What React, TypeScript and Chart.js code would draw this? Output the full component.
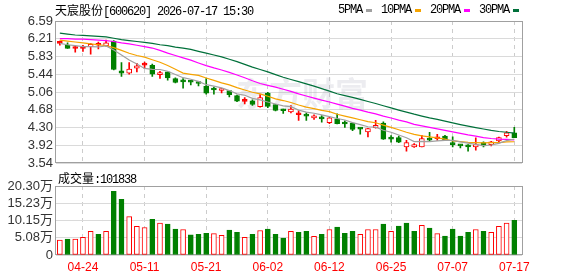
import React, { useEffect, useRef } from 'react';
import { Chart, registerables } from 'chart.js';

Chart.register(...registerables);

// ---------- data ----------
const stockName = '天宸股份';
const stockCode = '600620';
const timestamp = '2026-07-17 15:30';
const latestVolume = 101838;

const dates = [
  '04-21', '04-22', '04-23', '04-24', '04-27', '04-28', '04-29', '04-30', '05-06', '05-07',
  '05-08', '05-11', '05-12', '05-13', '05-14', '05-15', '05-18', '05-19', '05-20', '05-21',
  '05-22', '05-25', '05-26', '05-27', '05-28', '05-29', '06-01', '06-02', '06-03', '06-04',
  '06-05', '06-08', '06-09', '06-10', '06-11', '06-12', '06-15', '06-16', '06-17', '06-18',
  '06-22', '06-23', '06-24', '06-25', '06-26', '06-29', '06-30', '07-01', '07-02', '07-03',
  '07-06', '07-07', '07-08', '07-09', '07-10', '07-13', '07-14', '07-15', '07-16', '07-17',
];
const dateTickIndex = [3, 11, 19, 27, 35, 43, 51, 59];

const open = [
  6.11, 6.075, 6.0, 6.0, 6.04, 6.07, 6.06, 6.16, 5.52, 5.47,
  5.58, 5.645, 5.64, 5.44, 5.5, 5.355, 5.29, 5.285, 5.255, 5.19,
  5.115, 5.1, 5.1, 4.99, 4.865, 4.88, 4.75, 5.045, 4.8, 4.675,
  4.64, 4.58, 4.555, 4.51, 4.495, 4.41, 4.49, 4.385, 4.4, 4.275,
  4.21, 4.3, 4.4, 4.065, 4.09, 3.89, 3.89, 3.89, 4.04, 4.065,
  4.12, 3.945, 3.915, 3.895, 3.89, 3.98, 3.94, 4.02, 4.13, 4.19,
];
const high = [
  6.16, 6.12, 6.05, 6.07, 6.11, 6.14, 6.18, 6.17, 5.7, 5.7,
  5.68, 5.71, 5.665, 5.51, 5.5, 5.37, 5.355, 5.32, 5.29, 5.355,
  5.17, 5.14, 5.1, 5.0, 4.95, 4.9, 5.01, 5.06, 4.8, 4.7,
  4.775, 4.67, 4.62, 4.58, 4.56, 4.53, 4.6, 4.45, 4.4, 4.3,
  4.29, 4.46, 4.43, 4.13, 4.12, 4.03, 3.96, 4.14, 4.2, 4.16,
  4.14, 4.105, 3.94, 3.94, 4.085, 4.0, 4.01, 4.1, 4.225, 4.31,
];
const low = [
  6.07, 6.0, 5.92, 5.94, 5.88, 5.99, 6.05, 5.54, 5.4, 5.45,
  5.5, 5.57, 5.4, 5.36, 5.32, 5.26, 5.15, 5.22, 5.2, 5.02,
  5.02, 5.05, 4.96, 4.86, 4.81, 4.78, 4.74, 4.73, 4.66, 4.61,
  4.62, 4.46, 4.46, 4.48, 4.42, 4.39, 4.38, 4.31, 4.24, 4.16,
  4.105, 4.29, 4.05, 3.99, 3.98, 3.8, 3.88, 3.89, 4.0, 4.03,
  4.03, 3.89, 3.87, 3.8, 3.82, 3.89, 3.91, 4.0, 4.1, 4.09,
];
const close = [
  6.12, 6.0, 6.005, 6.01, 6.09, 6.075, 6.12, 5.55, 5.47, 5.56,
  5.63, 5.65, 5.45, 5.46, 5.37, 5.27, 5.285, 5.28, 5.25, 5.04,
  5.11, 5.115, 5.01, 4.87, 4.87, 4.8, 4.95, 4.76, 4.67, 4.665,
  4.7, 4.585, 4.55, 4.555, 4.49, 4.515, 4.39, 4.38, 4.265, 4.27,
  4.28, 4.35, 4.055, 4.055, 3.99, 3.98, 3.94, 4.07, 4.035, 4.07,
  4.035, 3.94, 3.91, 3.89, 3.94, 3.91, 4.0, 4.09, 4.19, 4.09,
];

const ma5 = [
  6.11, 6.08, 6.06, 6.04, 6.042, 6.033, 6.057, 5.967, 5.861, 5.755,
  5.666, 5.572, 5.552, 5.55, 5.512, 5.444, 5.374, 5.34, 5.294, 5.224,
  5.192, 5.154, 5.098, 5.028, 4.998, 4.93, 4.898, 4.852, 4.81, 4.77,
  4.752, 4.679, 4.635, 4.611, 4.575, 4.538, 4.499, 4.467, 4.411, 4.369,
  4.322, 4.314, 4.247, 4.204, 4.146, 4.086, 4.004, 4.007, 4.003, 4.019,
  4.03, 4.03, 3.998, 3.969, 3.943, 3.918, 3.93, 3.966, 4.026, 4.056,
];
const ma10 = [
  6.18, 6.16, 6.14, 6.12, 6.1, 6.08, 6.06, 6.02, 5.96, 5.899,
  5.85, 5.815, 5.76, 5.706, 5.634, 5.555, 5.473, 5.446, 5.422, 5.368,
  5.318, 5.264, 5.219, 5.161, 5.111, 5.061, 5.026, 4.975, 4.919, 4.884,
  4.841, 4.789, 4.744, 4.711, 4.673, 4.645, 4.589, 4.551, 4.511, 4.472,
  4.43, 4.407, 4.357, 4.308, 4.258, 4.204, 4.159, 4.127, 4.104, 4.083,
  4.058, 4.017, 4.003, 3.986, 3.981, 3.974, 3.98, 3.982, 3.998, 4.0,
];
const ma20 = [
  6.21, 6.21, 6.2, 6.2, 6.19, 6.18, 6.17, 6.15, 6.12, 6.1,
  6.07, 6.04, 6.01, 5.96, 5.9, 5.85, 5.8, 5.75, 5.69, 5.633,
  5.584, 5.539, 5.489, 5.433, 5.372, 5.308, 5.25, 5.211, 5.171, 5.126,
  5.08, 5.026, 4.981, 4.936, 4.892, 4.853, 4.808, 4.763, 4.715, 4.678,
  4.636, 4.598, 4.55, 4.509, 4.465, 4.425, 4.374, 4.339, 4.307, 4.277,
  4.244, 4.212, 4.18, 4.147, 4.119, 4.089, 4.07, 4.055, 4.051, 4.041,
];
const ma30 = [
  6.33, 6.31, 6.29, 6.28, 6.27, 6.26, 6.25, 6.22, 6.19, 6.17,
  6.15, 6.13, 6.11, 6.08, 6.06, 6.03, 6.01, 5.98, 5.94, 5.9,
  5.86, 5.82, 5.77, 5.72, 5.66, 5.6, 5.55, 5.5, 5.44, 5.384,
  5.336, 5.289, 5.241, 5.192, 5.139, 5.087, 5.029, 4.991, 4.951, 4.908,
  4.863, 4.82, 4.773, 4.726, 4.68, 4.637, 4.591, 4.551, 4.511, 4.48,
  4.443, 4.404, 4.368, 4.335, 4.304, 4.274, 4.243, 4.22, 4.204, 4.185,
];

// volume in 万 (10k shares)
const volume = [
  4.4, 4.7, 4.7, 5.2, 7.0, 6.1, 7.0, 18.7, 16.4, 11.3,
  8.4, 8.1, 10.5, 9.4, 9.1, 7.6, 7.5, 5.9, 6.1, 6.4,
  6.3, 5.8, 7.3, 6.7, 5.2, 6.1, 7.2, 7.6, 6.1, 5.0,
  7.0, 6.7, 7.0, 5.5, 6.1, 7.5, 8.2, 6.4, 7.0, 6.1,
  7.5, 7.5, 9.1, 7.0, 8.5, 9.4, 7.0, 8.7, 7.9, 6.3,
  5.6, 7.6, 5.6, 6.7, 7.5, 7.0, 6.7, 8.4, 9.4, 10.18,
];
// 1 = rose vs. previous close (red hollow), 0 = fell (green)
const volumeRise = [
  1, 0, 1, 1, 1, 0, 1, 0, 0, 1,
  1, 1, 0, 1, 0, 0, 1, 0, 0, 0,
  1, 1, 0, 0, 1, 0, 1, 0, 0, 0,
  1, 0, 0, 1, 0, 1, 0, 0, 0, 1,
  1, 1, 0, 1, 0, 0, 0, 1, 0, 1,
  0, 0, 0, 0, 1, 0, 1, 1, 1, 0,
];

const priceMin = 3.54;
const priceMax = 6.59;
const priceTickLabels = ['3.54', '3.92', '4.30', '4.68', '5.06', '5.44', '5.83', '6.21', '6.59'];
const volumeMax = 20.3;
const volumeTickLabels = ['0', '5.08万', '10.15万', '15.23万', '20.30万'];

const maLabels = ['5PMA', '10PMA', '20PMA', '30PMA'];

// ---------- styles ----------
const RED = '#ff0000';
const GREEN = '#008000';
const MA_COLORS = ['#a0a0a0', '#f5a300', '#ff00ff', '#00703a'];
const FRAME = '#a0a0a0';
const GRID = '#dadada';
const VGRID = '#cccccc';
const LABEL = '#333333';
const W = 578;
const PLOT_LEFT = 56;
const PLOT_RIGHT_PAD = 56;

const framePlugin = (watermark: boolean) => ({
  id: 'frame' + (watermark ? 'W' : ''),
  beforeDatasetsDraw(chart: any) {
    const { ctx, chartArea } = chart;
    ctx.save();
    if (watermark) {
      ctx.fillStyle = 'rgba(170,170,185,0.22)';
      ctx.font = 'bold 33px "Noto Sans CJK SC"';
      ctx.textBaseline = 'alphabetic';
      ctx.fillText('东方财富', 236, 106);
    }
    ctx.strokeStyle = FRAME;
    ctx.lineWidth = 1;
    ctx.strokeRect(
      Math.round(chartArea.left) - 0.5,
      Math.round(chartArea.top) + 0.5,
      Math.round(chartArea.right - chartArea.left) + 1,
      Math.round(chartArea.bottom - chartArea.top) - 1,
    );
    ctx.restore();
  },
});

const xScale = (showLabels: boolean) => ({
  type: 'linear' as const,
  min: -0.5,
  max: dates.length,
  offset: false,
  afterBuildTicks: (s: any) => {
    s.ticks = dateTickIndex.map((v) => ({ value: v }));
  },
  afterFit: (s: any) => {
    s.height = showLabels ? 21 : 0;
  },
  grid: { offset: false, color: VGRID, lineWidth: 1, drawTicks: false },
  border: { display: false, dash: [4, 4] },
  ticks: {
    display: showLabels,
    autoSkip: false,
    maxRotation: 0,
    padding: 5,
    color: RED,
    font: { family: '"Liberation Sans", Arial, sans-serif', size: 12 },
    callback: (v: any) => dates[v as number] ?? '',
  },
});

function priceConfig(): any {
  const idx = dates.map((_, i) => i);
  const col = idx.map((i) => (close[i] >= open[i] ? RED : GREEN));
  const hollow = idx.map((i) => close[i] - open[i] > 0.015);
  const maSeries = [ma5, ma10, ma20, ma30];
  return {
    type: 'bar',
    data: {
      datasets: [
        ...maSeries.map((s, k) => ({
          type: 'line',
          label: maLabels[k],
          data: s.map((v, i) => ({ x: i, y: v })),
          borderColor: MA_COLORS[k],
          borderWidth: 1.2,
          pointRadius: 0,
          tension: 0,
          order: 0,
        })),
        {
          type: 'bar',
          label: 'body',
          data: idx.map((i) => ({ x: i, y: [open[i], close[i]] })),
          backgroundColor: idx.map((i) => (hollow[i] ? '#ffffff' : col[i])),
          borderColor: col,
          borderWidth: 1,
          borderSkipped: false,
          barThickness: 5,
          minBarLength: 2,
          grouped: false,
          order: 1,
        },
        {
          type: 'bar',
          label: 'wick',
          data: idx.map((i) => ({ x: i, y: [low[i], high[i]] })),
          backgroundColor: col,
          borderWidth: 0,
          barThickness: 1,
          grouped: false,
          order: 2,
        },
      ],
    },
    options: {
      responsive: false,
      animation: false,
      events: [],
      layout: { padding: { left: 0, right: PLOT_RIGHT_PAD, top: 21, bottom: 9 } },
      plugins: { legend: { display: false }, tooltip: { enabled: false } },
      scales: {
        x: xScale(false),
        y: {
          type: 'linear',
          min: priceMin,
          max: priceMax,
          afterBuildTicks: (s: any) => {
            s.ticks = priceTickLabels.map((_, k) => ({
              value: priceMin + (k * (priceMax - priceMin)) / (priceTickLabels.length - 1),
            }));
          },
          afterFit: (s: any) => {
            s.width = PLOT_LEFT;
          },
          grid: { color: GRID, lineWidth: 1, drawTicks: false },
          border: { display: false },
          ticks: {
            autoSkip: false,
            padding: 3,
            color: LABEL,
            font: { family: '"Liberation Sans", Arial, sans-serif', size: 13 },
            callback: (_v: any, i: number) => priceTickLabels[i],
          },
        },
      },
    },
    plugins: [framePlugin(true)],
  };
}

function volumeConfig(): any {
  const idx = dates.map((_, i) => i);
  return {
    type: 'bar',
    data: {
      datasets: [
        {
          label: '成交量',
          data: idx.map((i) => ({ x: i, y: volume[i] })),
          backgroundColor: idx.map((i) => (volumeRise[i] ? '#ffffff' : GREEN)),
          borderColor: idx.map((i) => (volumeRise[i] ? RED : GREEN)),
          borderWidth: 1,
          borderSkipped: false,
          barThickness: 5,
          grouped: false,
        },
      ],
    },
    options: {
      responsive: false,
      animation: false,
      events: [],
      layout: { padding: { left: 0, right: PLOT_RIGHT_PAD, top: 12, bottom: 0 } },
      plugins: { legend: { display: false }, tooltip: { enabled: false } },
      scales: {
        x: xScale(true),
        y: {
          type: 'linear',
          min: 0,
          max: volumeMax,
          afterBuildTicks: (s: any) => {
            s.ticks = volumeTickLabels.map((_, k) => ({
              value: (k * volumeMax) / (volumeTickLabels.length - 1),
            }));
          },
          afterFit: (s: any) => {
            s.width = PLOT_LEFT;
          },
          grid: { color: GRID, lineWidth: 1, drawTicks: false },
          border: { display: false },
          ticks: {
            autoSkip: false,
            padding: 3,
            color: LABEL,
            font: { family: '"Liberation Sans", Arial, "Noto Sans CJK SC", sans-serif', size: 13 },
            callback: (_v: any, i: number) => volumeTickLabels[i],
          },
        },
      },
    },
    plugins: [framePlugin(false)],
  };
}

const smallFont: React.CSSProperties = {
  fontFamily: '"Liberation Mono", "Noto Sans CJK SC", monospace',
  fontSize: 12,
  letterSpacing: '-1.2px',
  color: '#000',
  lineHeight: '14px',
  whiteSpace: 'nowrap',
};

export default function App() {
  const priceRef = useRef<HTMLCanvasElement>(null);
  const volRef = useRef<HTMLCanvasElement>(null);

  useEffect(() => {
    document.body.style.margin = '0';
    const p = new Chart(priceRef.current as HTMLCanvasElement, priceConfig());
    const v = new Chart(volRef.current as HTMLCanvasElement, volumeConfig());
    return () => {
      p.destroy();
      v.destroy();
    };
  }, []);

  return (
    <div style={{ position: 'relative', width: W, height: 276, background: '#fff', overflow: 'hidden' }}>
      <canvas ref={priceRef} width={W} height={174} style={{ position: 'absolute', left: 0, top: 0 }} />
      <canvas ref={volRef} width={W} height={102} style={{ position: 'absolute', left: 0, top: 174 }} />
      <div style={{ ...smallFont, position: 'absolute', left: 55, top: 3 }}>
        <span style={{ fontFamily: '"Noto Sans CJK SC"', letterSpacing: 0 }}>{stockName}</span>
        [{stockCode}] {timestamp}
      </div>
      <div style={{ position: 'absolute', left: 338, top: 3, display: 'flex', alignItems: 'center' }}>
        {maLabels.map((l, k) => (
          <div key={l} style={{ display: 'flex', alignItems: 'center', marginRight: k < 3 ? 9 : 0 }}>
            <span style={smallFont}>{l}</span>
            <span
              style={{
                display: 'inline-block',
                width: 6,
                height: 3,
                marginLeft: 4,
                background: MA_COLORS[k],
              }}
            />
          </div>
        ))}
      </div>
      <div style={{ ...smallFont, position: 'absolute', left: 58, top: 171 }}>
        <span style={{ fontFamily: '"Noto Sans CJK SC"', letterSpacing: 0 }}>成交量</span>:{latestVolume}
      </div>
    </div>
  );
}
